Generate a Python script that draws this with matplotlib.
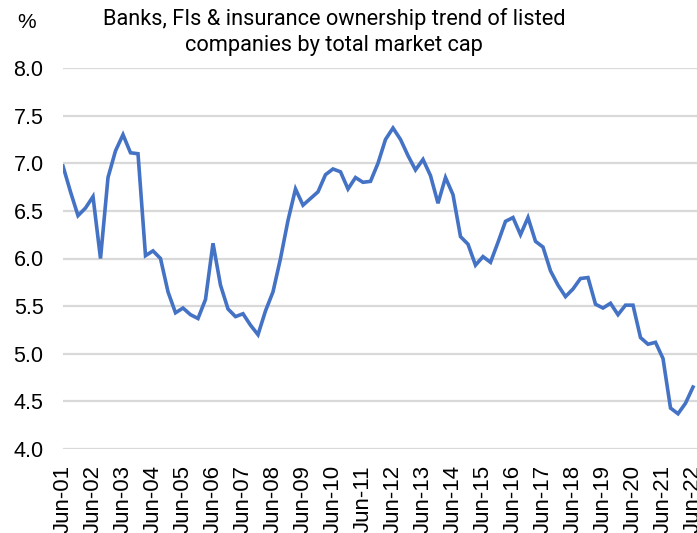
import matplotlib
matplotlib.use("Agg")
import matplotlib.pyplot as plt

# quarterly share (%) held by banks, FIs & insurance, Jun-01 .. Jun-22
share = [6.97, 6.70, 6.45, 6.53, 6.65, 6.00, 6.85, 7.13,
         7.30, 7.11, 7.10, 6.03, 6.08, 6.00, 5.65, 5.43,
         5.48, 5.41, 5.37, 5.57, 6.16, 5.72, 5.47, 5.39,
         5.42, 5.30, 5.20, 5.45, 5.65, 6.00, 6.40, 6.73,
         6.56, 6.63, 6.70, 6.88, 6.94, 6.91, 6.73, 6.85,
         6.80, 6.81, 7.00, 7.25, 7.37, 7.25, 7.08, 6.93,
         7.04, 6.87, 6.58, 6.85, 6.67, 6.23, 6.15, 5.93,
         6.02, 5.96, 6.17, 6.39, 6.43, 6.25, 6.43, 6.18,
         6.12, 5.87, 5.72, 5.60, 5.68, 5.79, 5.80, 5.52,
         5.48, 5.53, 5.41, 5.51, 5.51, 5.17, 5.10, 5.12,
         4.95, 4.43, 4.37, 4.48, 4.65]

year_labels = ['Jun-01', 'Jun-02', 'Jun-03', 'Jun-04', 'Jun-05', 'Jun-06',
               'Jun-07', 'Jun-08', 'Jun-09', 'Jun-10', 'Jun-11', 'Jun-12',
               'Jun-13', 'Jun-14', 'Jun-15', 'Jun-16', 'Jun-17', 'Jun-18',
               'Jun-19', 'Jun-20', 'Jun-21', 'Jun-22']

y_ticks = [4.0, 4.5, 5.0, 5.5, 6.0, 6.5, 7.0, 7.5, 8.0]

W, H = 697, 533
fig = plt.figure(figsize=(W / 100, H / 100), dpi=100)
ax = fig.add_axes([63 / W, 1 - 449 / H, 634 / W, 381 / H])

x = list(range(len(share)))
ax.plot(x, share, color='#4472C4', lw=2.6, solid_joinstyle='miter', zorder=3)

ax.set_ylim(4.0, 8.0)
ax.set_xlim(0, (len(share) - 1) * 634 / 630)
ax.set_yticks(y_ticks)
ax.set_yticklabels(['%.1f' % v for v in y_ticks], family='Liberation Sans', fontsize=15.5)
ax.set_xticks(x[::4])
ax.set_xticklabels(year_labels, rotation=90, family='Liberation Sans', fontsize=16,
                   va='top', ha='center')
ax.tick_params(axis='both', length=0)
ax.tick_params(axis='y', pad=14)
ax.tick_params(axis='x', pad=11.5)

ax.grid(axis='y', color='#D9D9D9', lw=1.6, zorder=0)
for s in ax.spines.values():
    s.set_visible(False)

fig.text(27 / W, 1 - 23 / H, '%', ha='center', va='center',
         family='Liberation Sans', fontsize=15)
fig.text(334 / W, 1 - 32 / H,
         'Banks, FIs & insurance ownership trend of listed\ncompanies by total market cap',
         ha='center', va='center', family=['Liberation Sans Narrow', 'Roboto'],
         fontsize=15.7, linespacing=1.25)

fig.savefig('out.png', dpi=100)
